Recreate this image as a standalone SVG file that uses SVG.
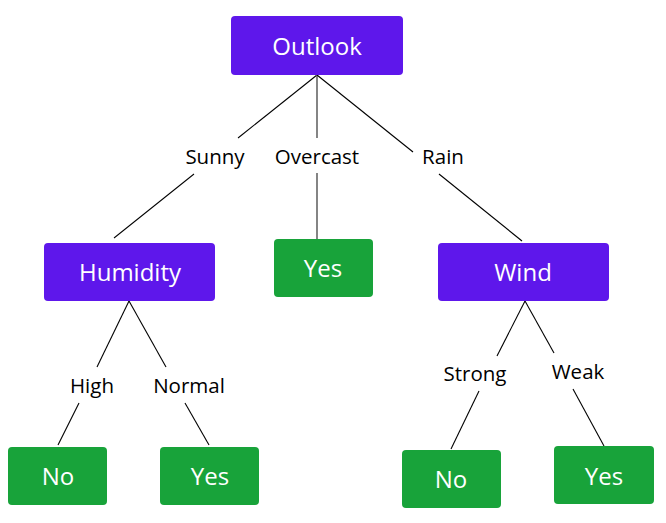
<svg xmlns="http://www.w3.org/2000/svg" width="666" height="523" viewBox="0 0 666 523">
<style>
.dec{fill:#5E17EB}
.leaf{fill:#18A33A}
.nt{font-family:"Open Sans","Noto Sans",sans-serif;font-size:24px;fill:#fff;text-anchor:middle}
.lt{font-family:"Open Sans","Noto Sans",sans-serif;font-size:20.5px;fill:#000;text-anchor:middle}
.c{stroke:#000;stroke-width:1.1;fill:none}
.cg{stroke:#666;stroke-width:1.6;fill:none}
</style>
<rect width="666" height="523" fill="#fff"/>
<g id="connectors">
<line class="c" x1="317" y1="75" x2="238" y2="138"/>
<line class="cg" x1="317" y1="75" x2="317" y2="138"/>
<line class="c" x1="317" y1="75" x2="413" y2="152"/>
<line class="c" x1="194" y1="174" x2="114" y2="238"/>
<line class="cg" x1="317" y1="173" x2="317" y2="240"/>
<line class="c" x1="439" y1="174" x2="522" y2="241"/>
<line class="c" x1="129" y1="301" x2="97" y2="367"/>
<line class="c" x1="129" y1="301" x2="166" y2="367"/>
<line class="c" x1="79" y1="403" x2="58" y2="445"/>
<line class="c" x1="185" y1="403" x2="209" y2="445"/>
<line class="c" x1="525" y1="301" x2="497" y2="356"/>
<line class="c" x1="525" y1="301" x2="554" y2="353"/>
<line class="c" x1="479" y1="391" x2="451" y2="449"/>
<line class="c" x1="573" y1="389" x2="604" y2="446"/>
</g>
<g id="labels">
<text class="lt" x="215" y="164">Sunny</text>
<text class="lt" x="317" y="164">Overcast</text>
<text class="lt" x="443" y="164">Rain</text>
<text class="lt" x="92" y="393">High</text>
<text class="lt" x="189" y="393">Normal</text>
<text class="lt" x="475" y="381">Strong</text>
<text class="lt" x="578" y="379">Weak</text>
</g>
<g id="outlook"><rect class="dec" x="231" y="16" width="172" height="59" rx="4"/><text class="nt" x="317" y="55">Outlook</text></g>
<g id="humidity"><rect class="dec" x="44" y="243" width="171" height="58" rx="4"/><text class="nt" x="130" y="281">Humidity</text></g>
<g id="yes-overcast"><rect class="leaf" x="274" y="239" width="99" height="58" rx="4"/><text class="nt" x="323" y="277">Yes</text></g>
<g id="wind"><rect class="dec" x="438" y="243" width="171" height="58" rx="4"/><text class="nt" x="523" y="281">Wind</text></g>
<g id="no-high"><rect class="leaf" x="8" y="447" width="99" height="58" rx="4"/><text class="nt" x="58" y="485">No</text></g>
<g id="yes-normal"><rect class="leaf" x="160" y="447" width="99" height="58" rx="4"/><text class="nt" x="210" y="485">Yes</text></g>
<g id="no-strong"><rect class="leaf" x="402" y="450" width="99" height="58" rx="4"/><text class="nt" x="451" y="488">No</text></g>
<g id="yes-weak"><rect class="leaf" x="554" y="446" width="100" height="58" rx="4"/><text class="nt" x="604" y="485">Yes</text></g>
</svg>
